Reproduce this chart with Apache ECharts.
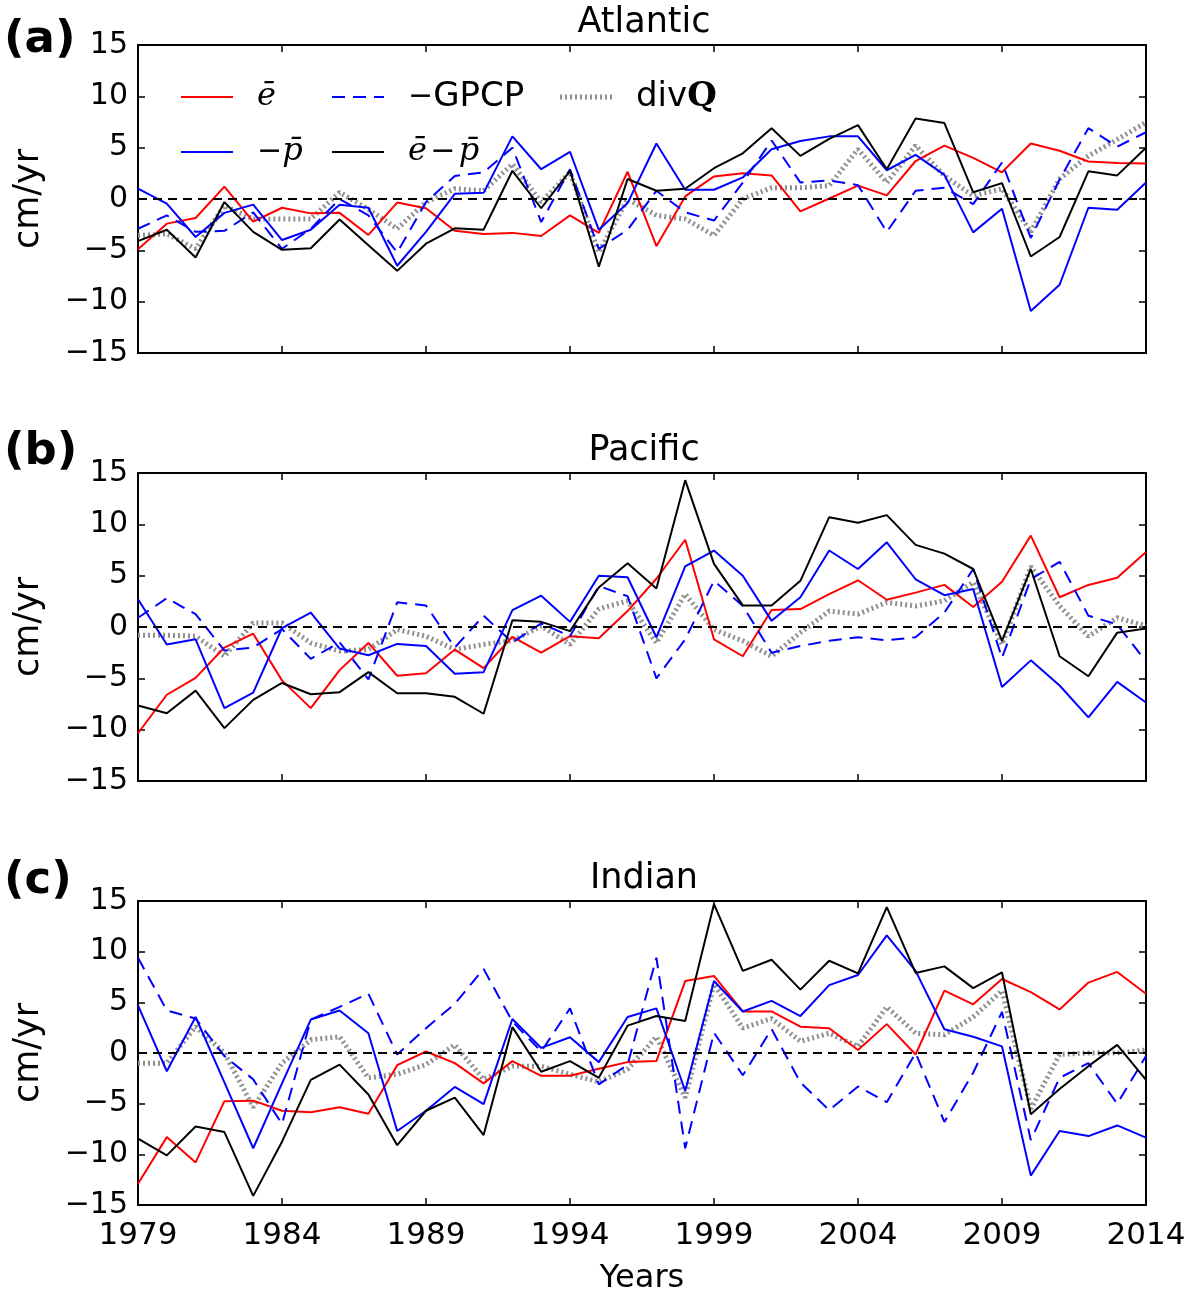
<!DOCTYPE html>
<html>
<head>
<meta charset="utf-8">
<script src="https://cdn.jsdelivr.net/npm/echarts@6/dist/echarts.min.js"></script>
<style>
  html, body { margin: 0; padding: 0; background: #fff; }
  #chart { width: 1200px; height: 1296px; }
</style>
</head>
<body>
<div id="chart"></div>
<script>
// years on the x axis
var years = ['1979','1980','1981','1982','1983','1984','1985','1986','1987','1988',
             '1989','1990','1991','1992','1993','1994','1995','1996','1997','1998',
             '1999','2000','2001','2002','2003','2004','2005','2006','2007','2008',
             '2009','2010','2011','2012','2013','2014'];
var yTicks = [-15, -10, -5, 0, 5, 10, 15];

// (a) Atlantic
var atlE  = [-4.9,-2.4,-1.85,1.2,-2.2,-0.85,-1.4,-1.35,-3.5,-0.35,-0.9,-3.1,-3.4,-3.3,-3.6,-1.6,-3.3,2.65,
             -4.6,0.25,2.2,2.5,2.3,-1.2,0.05,1.3,0.35,3.7,5.2,4.0,2.6,5.4,4.7,3.65,3.5,3.45];
var atlP  = [1.0,-0.45,-3.7,-1.35,-0.55,-4.0,-3.0,-0.55,-0.85,-6.5,-3.2,0.5,0.6,6.1,2.9,4.6,-3.0,-0.4,
             5.4,0.9,0.9,2.1,4.85,5.65,6.1,6.1,2.8,4.3,2.35,-3.25,-0.95,-10.9,-8.35,-0.85,-1.05,1.6];
var atlG  = [-2.9,-1.6,-3.2,-3.1,-1.3,-4.85,-2.9,0,-1.6,-5.2,-0.3,2.25,2.6,5.0,-2.25,2.9,-4.85,-3.0,
             0.8,-1.3,-2.1,1.6,5.7,1.6,1.8,1.35,-3.2,0.8,1.1,-0.5,3.55,-3.8,1.9,6.9,5.1,6.5];
var atlEP = [-4.1,-3.0,-5.7,-0.3,-3.2,-4.95,-4.8,-2.0,-4.5,-7.0,-4.35,-2.85,-3.0,2.75,-0.9,2.75,-6.6,1.95,
             0.8,1.0,3.0,4.45,6.9,4.2,5.85,7.2,2.9,7.85,7.4,0.65,1.55,-5.6,-3.7,2.7,2.3,5.0];
var atlD  = [-3.55,-3.4,-4.85,-0.65,-1.95,-1.95,-1.95,0.65,-1.0,-2.9,-0.3,1.0,0.8,3.4,-0.3,2.6,-5.2,0,
             -1.6,-1.95,-3.55,0,1.1,1.1,1.3,4.85,1.6,5.2,2.25,0.3,1.0,-3.2,1.95,4.2,5.8,7.45];

// (b) Pacific
var pacE  = [-10.35,-6.6,-4.95,-2.0,-0.65,-5.2,-7.9,-4.2,-1.55,-4.75,-4.5,-2.2,-4.0,-0.95,-2.5,-0.9,-1.1,1.55,
             4.7,8.5,-1.2,-2.85,1.65,1.75,3.2,4.55,2.65,3.35,4.1,1.95,4.4,8.9,2.9,4.1,4.8,7.3];
var pacP  = [2.7,-1.7,-1.2,-7.9,-6.4,-0.1,1.4,-2.1,-2.75,-1.65,-1.85,-4.55,-4.4,1.65,3.05,0.5,5.0,4.85,
             -1.0,5.9,7.45,5.0,0.6,2.9,7.45,5.65,8.25,4.65,3.1,3.7,-5.85,-3.25,-5.7,-8.8,-5.35,-7.35];
var pacG  = [0.9,2.8,1.25,-2.3,-2.0,-0.2,-3.1,-1.5,-5.1,2.4,2.1,-2.0,1.1,-1.5,0.35,-0.9,4.0,3.0,
             -5.0,-1.2,4.5,2.05,-2.5,-1.85,-1.35,-1.0,-1.3,-1.0,1.4,5.65,-3.0,4.65,6.35,1.1,0.25,-3.35];
var pacEP = [-7.65,-8.4,-6.2,-9.85,-7.1,-5.45,-6.55,-6.35,-4.4,-6.45,-6.45,-6.8,-8.45,0.65,0.5,-0.4,3.85,6.2,
             3.75,14.3,6.15,2.1,2.1,4.5,10.7,10.15,10.9,8.0,7.15,5.65,-1.35,5.65,-2.85,-4.8,-0.55,-0.15];
var pacD  = [-0.8,-0.8,-0.9,-2.85,0.4,0.4,-1.55,-2.35,-2.2,-0.25,-0.9,-2.2,-1.7,-1.35,0.1,-1.7,1.75,2.55,
             -1.55,3.2,-0.25,-1.35,-2.85,-0.55,1.55,1.25,2.4,2.05,2.55,4.35,-1.7,5.9,2.05,-0.9,0.9,0.1];

// (c) Indian
var indE  = [-12.9,-8.3,-10.8,-4.75,-4.7,-5.7,-5.85,-5.35,-6.0,-1.2,0.15,-1.0,-3.0,-0.8,-2.25,-2.25,-1.55,-0.9,
             -0.8,7.1,7.6,4.1,4.1,2.6,2.45,0.3,2.85,-0.15,6.15,4.8,7.3,6.0,4.3,6.95,8.0,5.85];
var indP  = [4.7,-1.8,3.55,-2.9,-9.4,-3.0,3.3,4.2,1.95,-7.7,-5.7,-3.35,-5.05,3.35,0.5,1.55,-0.9,3.55,
             4.4,-3.75,7.1,4.1,5.15,3.65,6.7,7.7,11.6,8.1,2.35,1.6,0.65,-12.1,-7.7,-8.2,-7.15,-8.35];
var indG  = [9.4,4.2,3.4,-0.3,-2.6,-7.0,3.3,4.55,5.85,-0.15,2.45,4.85,8.3,3.1,0.15,4.4,-3.1,-1.15,
             9.4,-9.4,2.0,-2.2,2.35,-2.9,-5.65,-3.3,-4.85,0,-6.8,-1.95,4.05,-8.6,-2.45,-1.0,-5.0,-0.3];
var indEP = [-8.45,-10.1,-7.25,-7.8,-14.1,-8.75,-2.65,-1.15,-4.1,-9.1,-5.7,-4.4,-8.1,2.55,-1.85,-0.8,-2.45,2.7,
             3.65,3.15,14.7,8.1,9.2,6.25,9.1,7.85,14.4,7.9,8.55,6.4,7.95,-6.05,-3.55,-1.3,0.8,-2.65];
var indD  = [-1.0,-1.0,2.6,0,-5.35,-1.0,1.3,1.6,-2.45,-2.1,-1.15,0.8,-2.6,-1.3,-1.3,-2.1,-2.85,-1.6,
             1.6,-4.4,6.8,2.45,3.4,1.15,1.95,0.65,4.55,1.95,1.8,3.55,6.15,-5.5,-0.15,0,0,0.3];

var panelTitles = ['Atlantic', 'Pacific', 'Indian'];
var panelTags = ['(a)', '(b)', '(c)'];
var panelData = [
    [atlE, atlP, atlG, atlEP, atlD],
    [pacE, pacP, pacG, pacEP, pacD],
    [indE, indP, indG, indEP, indD]
];
var seriesNames = ['e', '-p', '-GPCP', 'e-p', 'divQ'];

var chart = echarts.init(document.getElementById('chart'));

var FONT = 'DejaVu Sans';
var gridTops = [45, 473, 901];
var tagTops = [18, 430, 859];
var gridH = 308;
var plotL = 138, plotR = 1146;

var lineStyles = [
    {color: '#ff0000', width: 2, type: 'solid'},
    {color: '#0000ff', width: 2, type: 'solid'},
    {color: '#0000ff', width: 2, type: [13, 8]},
    {color: '#000000', width: 2, type: 'solid'},
    {color: '#8f8f8f', width: 5, type: [2, 3]}
];

function minusFmt(v) {
    return String(v).replace('-', '\u2212');
}

var grids = [], xAxes = [], yAxes = [], series = [], graphics = [];

for (var k = 0; k < 3; k++) {
    grids.push({left: plotL, width: plotR - plotL, top: gridTops[k], height: gridH});

    var tick = {show: true, inside: true, length: 7, interval: 4, lineStyle: {color: '#000', width: 1.5}};
    var line = {show: true, onZero: false, lineStyle: {color: '#000', width: 2}};

    // bottom x axis (labels only on the last panel)
    xAxes.push({
        type: 'category', gridIndex: k, data: years, boundaryGap: false, position: 'bottom',
        axisLine: line, axisTick: tick,
        axisLabel: {show: k === 2, interval: 4, margin: 15, fontSize: 31, color: '#000', fontFamily: FONT},
        splitLine: {show: false},
        name: k === 2 ? 'Years' : '', nameLocation: 'middle', nameGap: 58,
        nameTextStyle: {fontSize: 32, color: '#000', fontFamily: FONT}
    });
    // top x axis: ticks only
    xAxes.push({
        type: 'category', gridIndex: k, data: years, boundaryGap: false, position: 'top',
        axisLine: line, axisTick: tick, axisLabel: {show: false}, splitLine: {show: false}
    });
    var ytick = {show: true, inside: true, length: 7, lineStyle: {color: '#000', width: 1.5}};
    yAxes.push({
        type: 'value', gridIndex: k, min: -15, max: 15, interval: 5, position: 'left',
        axisLine: line, axisTick: ytick,
        axisLabel: {margin: 10, fontSize: 30, color: '#000', fontFamily: FONT, formatter: minusFmt},
        splitLine: {show: false},
        name: 'cm/yr', nameLocation: 'middle', nameRotate: 90, nameGap: 92,
        nameTextStyle: {fontSize: 35, color: '#000', fontFamily: FONT}
    });
    yAxes.push({
        type: 'value', gridIndex: k, min: -15, max: 15, interval: 5, position: 'right',
        axisLine: line, axisTick: ytick, axisLabel: {show: false}, splitLine: {show: false}
    });

    for (var s = 0; s < 5; s++) {
        var ser = {
            name: seriesNames[s] + k,
            type: 'line',
            xAxisIndex: k * 2,
            yAxisIndex: k * 2,
            data: panelData[k][s],
            showSymbol: false,
            symbol: 'none',
            lineStyle: lineStyles[s],
            z: s === 4 ? 3 : 4,
            silent: true
        };
        if (s === 0) {
            ser.markLine = {
                silent: true, symbol: ['none', 'none'], label: {show: false},
                lineStyle: {color: '#000', width: 2, type: [9, 6]},
                data: [{yAxis: 0}]
            };
        }
        series.push(ser);
    }

    graphics.push({
        type: 'text', left: 4, top: tagTops[k], z: 10,
        style: {text: panelTags[k], font: 'bold 45px "DejaVu Sans"', fill: '#000'}
    });
    graphics.push({
        type: 'text', x: (plotL + plotR) / 2 + 2, y: gridTops[k] - 22, z: 10,
        style: {text: panelTitles[k], font: '35px "DejaVu Sans"', fill: '#000',
                textAlign: 'center', textVerticalAlign: 'middle'}
    });
}

// legend of panel (a), two rows x three columns
var legendRows = [97, 152];
var legendItems = [
    {x: 181, row: 0, st: 0, text: '{m|\u0113}'},
    {x: 181, row: 1, st: 1, text: '{s|\u2212}{m|p\u0304}'},
    {x: 332, row: 0, st: 2, text: '{s|\u2212}{t|GPCP}'},
    {x: 332, row: 1, st: 3, text: '{m|\u0113} {s|\u2212} {m|p\u0304}'},
    {x: 560, row: 0, st: 4, text: '{t|div}{q|Q}'}
];
var rich = {
    m: {fontFamily: 'DejaVu Serif', fontStyle: 'italic', fontSize: 32, color: '#000'},
    s: {fontFamily: 'DejaVu Sans', fontSize: 30, color: '#000'},
    t: {fontFamily: 'DejaVu Sans', fontSize: 34, color: '#000'},
    q: {fontFamily: 'DejaVu Serif', fontWeight: 'bold', fontSize: 34, color: '#000'}
};
legendItems.forEach(function (it) {
    var ls = lineStyles[it.st];
    var y = legendRows[it.row];
    graphics.push({
        type: 'line', z: 10,
        shape: {x1: it.x, y1: y, x2: it.x + 52, y2: y},
        style: {stroke: ls.color, lineWidth: ls.width,
                lineDash: ls.type === 'solid' ? null : ls.type}
    });
    graphics.push({
        type: 'text', x: it.x + 76, y: y, z: 10,
        style: {text: it.text, rich: rich, textVerticalAlign: 'middle', fill: '#000'}
    });
});

var option = {
    animation: false,
    backgroundColor: '#fff',
    grid: grids,
    xAxis: xAxes,
    yAxis: yAxes,
    series: series,
    graphic: graphics
};

chart.setOption(option);
</script>
</body>
</html>
